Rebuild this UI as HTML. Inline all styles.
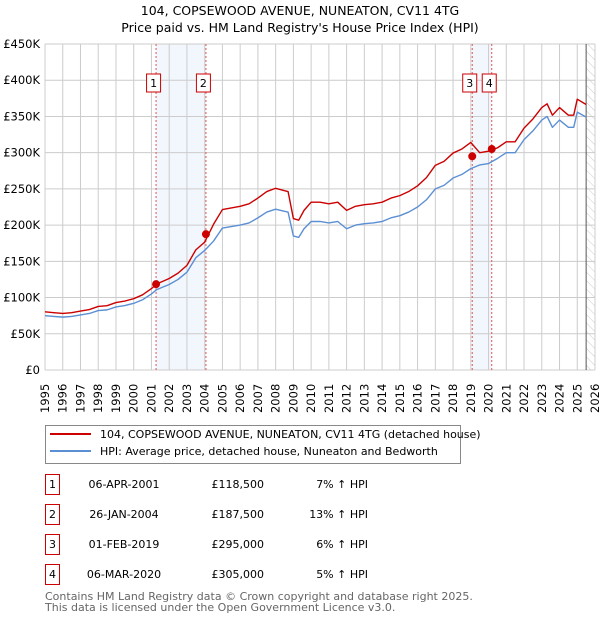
<!DOCTYPE html>
<html><head><meta charset="utf-8"><style>
body{margin:0;background:#fff;font-family:"DejaVu Sans","Liberation Sans",sans-serif;}
svg text{font-family:"DejaVu Sans","Liberation Sans",sans-serif;}
</style></head><body>
<svg id="c" width="600" height="620" xmlns="http://www.w3.org/2000/svg">
<defs><pattern id="hatch" width="6" height="6" patternUnits="userSpaceOnUse" patternTransform="rotate(-45)"><line x1="0" y1="0" x2="0" y2="6" stroke="#ccc" stroke-width="1"/></pattern></defs>
<text x="300" y="15" text-anchor="middle" font-size="12.5">104, COPSEWOOD AVENUE, NUNEATON, CV11 4TG</text>
<text x="300" y="32" text-anchor="middle" font-size="12.5">Price paid vs. HM Land Registry's House Price Index (HPI)</text>
<g id="plot"></g>
<g>
<rect x="45.5" y="425.5" width="415" height="38" fill="#fff" stroke="#888"/>
<line x1="50" y1="434" x2="91" y2="434" stroke="#cc0000" stroke-width="2"/>
<text x="100" y="438" font-size="11">104, COPSEWOOD AVENUE, NUNEATON, CV11 4TG (detached house)</text>
<line x1="50" y1="451" x2="91" y2="451" stroke="#5b8fd4" stroke-width="2"/>
<text x="100" y="455" font-size="11">HPI: Average price, detached house, Nuneaton and Bedworth</text>
</g>
<g id="table" font-size="11"></g>
<text x="45" y="600" font-size="11" fill="#666">Contains HM Land Registry data © Crown copyright and database right 2025.</text>
<text x="45" y="611" font-size="11" fill="#666">This data is licensed under the Open Government Licence v3.0.</text>
</svg>
<script>
const hpiYears=[1995,1995.5,1996,1996.5,1997,1997.5,1998,1998.5,1999,1999.5,2000,2000.5,2001,2001.3,2001.6,2002,2002.5,2003,2003.5,2004,2004.5,2005,2005.5,2006,2006.5,2007,2007.5,2008,2008.5,2008.7,2009,2009.3,2009.6,2010,2010.5,2011,2011.5,2012,2012.5,2013,2013.5,2014,2014.5,2015,2015.5,2016,2016.5,2017,2017.5,2018,2018.5,2019,2019.5,2020,2020.5,2021,2021.5,2022,2022.5,2023,2023.3,2023.6,2024,2024.5,2024.8,2025,2025.5];
const hpiValues=[75,74,73,74,76,78,82,83,87,89,92,97,105,111,114,118,125,135,155,165,178,196,198,200,203,210,218,222,219,218,185,183,195,205,205,203,205,195,200,202,203,205,210,213,218,225,235,250,255,265,270,278,283,285,292,300,300,318,330,345,350,335,345,335,335,356,349];
const saleLabels=["1","2","3","4"];
const saleDates=[2001.26,2004.07,2019.08,2020.18];
const salePrices=[118.5,187.5,295,305];
const saleDateText=["06-APR-2001","26-JAN-2004","01-FEB-2019","06-MAR-2020"];
const salePriceText=["£118,500","£187,500","£295,000","£305,000"];
const salePctText=["7% ↑ HPI","13% ↑ HPI","6% ↑ HPI","5% ↑ HPI"];
const salePremium=[1.07,1.13,1.06,1.05];
const yTicks=[0,50,100,150,200,250,300,350,400,450];
const yTickLabels=["£0","£50K","£100K","£150K","£200K","£250K","£300K","£350K","£400K","£450K"];

const NS="http://www.w3.org/2000/svg";
const X0=45,X1=595,Y0=370,Y1=44,T0=1995,T1=2026;
const xs=t=>X0+(t-T0)/(T1-T0)*(X1-X0);
const ys=v=>Y0-v/450*(Y0-Y1);
const plot=document.getElementById('plot');
function mk(tag,attrs,parent){const e=document.createElementNS(NS,tag);for(const k in attrs)e.setAttribute(k,attrs[k]);(parent||plot).appendChild(e);return e;}
for(const [a,b] of [[0,1],[2,3]]){
 const r=mk('rect',{x:xs(saleDates[a]),y:Y1,width:xs(saleDates[b])-xs(saleDates[a]),height:Y0-Y1,fill:'#f2f6fd'});
 
 
}
const hx=xs(2025.5);
const hr=mk('rect',{x:hx,y:Y1,width:X1-hx,height:Y0-Y1,fill:'url(#hatch)'});


for(let i=0;i<yTicks.length;i++){
 const y=ys(yTicks[i]);
 const g=mk('line',{x1:X0,x2:X1,y1:y,y2:y,stroke:'#ccc','stroke-width':1});
 
 
 const t=mk('text',{x:X0-5,y:y+4,'text-anchor':'end','font-size':11.5});
 t.textContent=yTickLabels[i];
 
 
}
for(let yr=T0;yr<=T1;yr++){
 const x=xs(yr);
 const g=mk('line',{x1:x,x2:x,y1:Y1,y2:Y0,stroke:'#ccc','stroke-width':1});
 
 
 const t=mk('text',{x:x+4,y:413,'font-size':11.5,transform:`rotate(-90 ${x+4} 413)`});
 t.textContent=yr;
 
 
}
const nl=mk('line',{x1:hx,x2:hx,y1:Y1,y2:Y0,stroke:'#555','stroke-width':1});


for(let i=0;i<saleDates.length;i++){
 const x=xs(saleDates[i]);
 const l=mk('line',{x1:x,x2:x,y1:Y1,y2:Y0,stroke:'#e05555','stroke-width':1,'stroke-dasharray':'2,2'});
 
 
}
const hpiPts=hpiYears.map((t,i)=>[xs(t),ys(hpiValues[i])]);
function premium(t){let p=salePremium[0];for(let i=0;i<saleDates.length;i++)if(t>=saleDates[i])p=salePremium[i];return p;}
const redPts=hpiYears.map((t,i)=>[xs(t),ys(hpiValues[i]*premium(t))]);
const hp=mk('polyline',{points:hpiPts.map(p=>p.join(',')).join(' '),fill:'none',stroke:'#5b8fd4','stroke-width':1.4,'stroke-linejoin':'round'});


const rp=mk('polyline',{points:redPts.map(p=>p.join(',')).join(' '),fill:'none',stroke:'#cc0000','stroke-width':1.4,'stroke-linejoin':'round'});


for(let i=0;i<saleDates.length;i++){
 const c=mk('circle',{cx:xs(saleDates[i]),cy:ys(salePrices[i]),r:4,fill:'#cc0000'});
 
 
 const bx=xs(saleDates[i])-9.5;
 const b=mk('rect',{x:bx,y:74,width:14,height:18,fill:'#fff',stroke:'#cc0000'});
 
 
 const t=mk('text',{x:bx+7,y:87,'text-anchor':'middle','font-size':11});
 t.textContent=saleLabels[i];
 
 
}
const tb=document.getElementById('table');
for(let i=0;i<saleLabels.length;i++){
 const y=483+i*30;
 const r=mk('rect',{x:45.5,y:y-8.5,width:14,height:20,fill:'#fff',stroke:'#cc0000'},tb);
 
 
 const vals=[[52.5,saleLabels[i],'middle'],[124,saleDateText[i],'middle'],[264,salePriceText[i],'end'],[368,salePctText[i],'end']];
 for(const [x,s,a] of vals){
  const t=mk('text',{x:x,y:y+5,'text-anchor':a},tb);
  t.textContent=s;
  
  
 }
}
</script>
</body></html>
